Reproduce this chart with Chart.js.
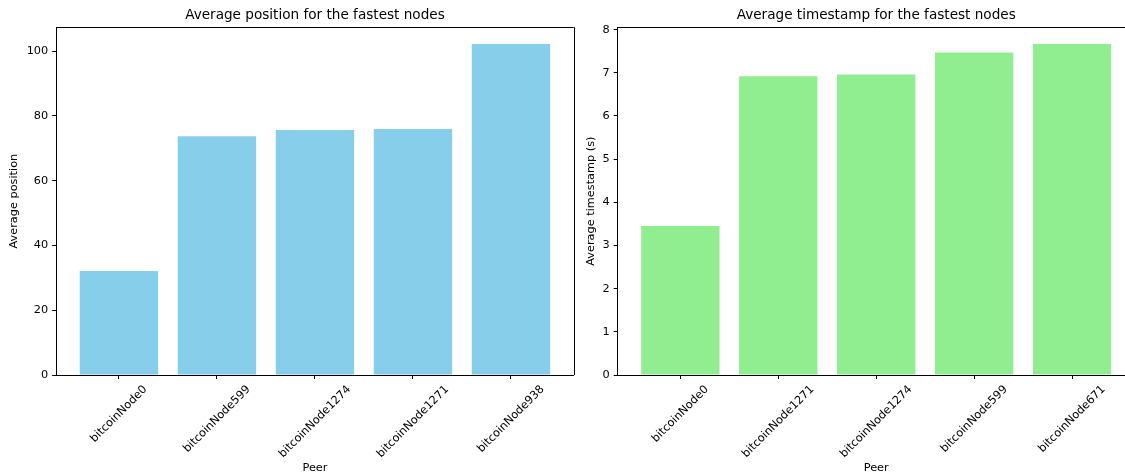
<!DOCTYPE html>
<html>
<head>
<meta charset="utf-8">
<script src="https://cdn.jsdelivr.net/npm/chart.js@4/dist/chart.umd.min.js"></script>
<style>
  html, body { margin: 0; padding: 0; background: #ffffff; overflow: hidden; width: 1125px; height: 475px; }
  #wrapPos { position: absolute; left: 0; top: 0; width: 577px; height: 475px; }
  #wrapTs  { position: absolute; left: 577px; top: 0; width: 560px; height: 475px; }
</style>
</head>
<body>
<div id="wrapPos"><canvas id="posChart" width="577" height="475"></canvas></div>
<div id="wrapTs"><canvas id="tsChart" width="560" height="475"></canvas></div>
<script>
// Average block position per peer
const positionPeers  = ['bitcoinNode0', 'bitcoinNode599', 'bitcoinNode1274', 'bitcoinNode1271', 'bitcoinNode938'];
const positionValues = [32.1, 73.7, 75.6, 75.9, 102.2];
const positionTicks  = [0, 20, 40, 60, 80, 100];

// Average arrival timestamp (seconds) per peer
const timestampPeers  = ['bitcoinNode0', 'bitcoinNode1271', 'bitcoinNode1274', 'bitcoinNode599', 'bitcoinNode671'];
const timestampValues = [3.45, 6.92, 6.96, 7.47, 7.67];
const timestampTicks  = [0, 1, 2, 3, 4, 5, 6, 7, 8];

const FONT_FAMILY = '"DejaVu Sans", "Liberation Sans", sans-serif';
const LABEL_SIZE = 11.3;
const TITLE_SIZE = 13.6;
const INK = '#000000';
const TICK_LEN = 4;
const TICK_PAD = 4;

Chart.defaults.font.family = FONT_FAMILY;
Chart.defaults.color = INK;

// Peer names under the x axis, rotated 45° and centred on their tick
const rotatedPeerLabels = {
  id: 'rotatedPeerLabels',
  afterDraw(chart, args, opts) {
    const sc = chart.scales.x;
    const ctx = chart.ctx;
    ctx.save();
    ctx.font = LABEL_SIZE + 'px ' + FONT_FAMILY;
    ctx.fillStyle = INK;
    ctx.textAlign = 'center';
    ctx.textBaseline = 'middle';
    const top = sc.top + TICK_LEN + TICK_PAD;
    const lineH = LABEL_SIZE * 1.17;
    opts.labels.forEach((label, i) => {
      const w = ctx.measureText(label).width;
      const half = (w + lineH) * Math.SQRT1_2 / 2;
      ctx.save();
      ctx.translate(sc.getPixelForValue(i), top + half);
      ctx.rotate(-Math.PI / 4);
      ctx.fillText(label, 0, 0);
      ctx.restore();
    });
    ctx.restore();
  }
};

// Top and right frame lines around the plot area
const axesFrame = {
  id: 'axesFrame',
  afterDraw(chart) {
    const { ctx, chartArea: a } = chart;
    ctx.save();
    ctx.strokeStyle = INK;
    ctx.lineWidth = 1;
    ctx.beginPath();
    ctx.moveTo(a.left, Math.round(a.top) + 0.5);
    ctx.lineTo(a.right, Math.round(a.top) + 0.5);
    ctx.moveTo(Math.round(a.right) + 0.5, a.top);
    ctx.lineTo(Math.round(a.right) + 0.5, a.bottom);
    ctx.stroke();
    ctx.restore();
  }
};

function axisStyle() {
  return {
    grid: { offset: false, drawOnChartArea: false, drawTicks: true, tickLength: TICK_LEN, tickColor: INK, tickWidth: 1 },
    border: { display: true, color: INK, width: 1 }
  };
}

function buildBarChart(canvasId, cfg) {
  return new Chart(document.getElementById(canvasId), {
    type: 'bar',
    data: {
      datasets: [{
        data: cfg.values.map((v, i) => ({ x: i, y: v })),
        backgroundColor: cfg.color,
        borderWidth: 0,
        barPercentage: 0.8,
        categoryPercentage: 1.0
      }]
    },
    options: {
      responsive: false,
      devicePixelRatio: 1,
      animation: false,
      layout: { padding: { left: 0, right: cfg.padRight, top: 0, bottom: 0 } },
      plugins: {
        legend: { display: false },
        tooltip: { enabled: false },
        title: {
          display: true,
          text: cfg.title,
          fullSize: false,
          color: INK,
          font: { family: FONT_FAMILY, size: TITLE_SIZE, weight: 'normal' },
          padding: { top: 7.5, bottom: 3.5 }
        },
        rotatedPeerLabels: { labels: cfg.peers }
      },
      scales: {
        x: Object.assign(axisStyle(), {
          type: 'linear',
          min: -0.64,
          max: 4.64,
          offset: false,
          afterBuildTicks: ax => { ax.ticks = cfg.peers.map((_, i) => ({ value: i })); },
          afterFit: ax => { ax.height = 100; },
          ticks: { display: false },
          title: {
            display: true, text: 'Peer', color: INK,
            font: { family: FONT_FAMILY, size: LABEL_SIZE },
            padding: { top: 0, bottom: 0 }
          }
        }),
        y: Object.assign(axisStyle(), {
          min: 0,
          max: cfg.yMax,
          afterBuildTicks: ax => { ax.ticks = cfg.yTicks.map(v => ({ value: v })); },
          afterFit: ax => { ax.width = cfg.yWidth; },
          ticks: { color: INK, padding: TICK_PAD, font: { family: FONT_FAMILY, size: LABEL_SIZE } },
          title: {
            display: true, text: cfg.yTitle, color: INK,
            font: { family: FONT_FAMILY, size: LABEL_SIZE },
            padding: { top: 7, bottom: 0 }
          }
        })
      }
    },
    plugins: [rotatedPeerLabels, axesFrame]
  });
}

buildBarChart('posChart', {
  title: 'Average position for the fastest nodes',
  yTitle: 'Average position',
  peers: positionPeers,
  values: positionValues,
  yTicks: positionTicks,
  yMax: Math.max(...positionValues) * 1.05,
  color: '#87CEEB',
  yWidth: 56.2,
  padRight: 3.3
});

buildBarChart('tsChart', {
  title: 'Average timestamp for the fastest nodes',
  yTitle: 'Average timestamp (s)',
  peers: timestampPeers,
  values: timestampValues,
  yTicks: timestampTicks,
  yMax: Math.max(...timestampValues) * 1.05,
  color: '#90EE90',
  yWidth: 40.7,
  padRight: 2.3
});
</script>
</body>
</html>
